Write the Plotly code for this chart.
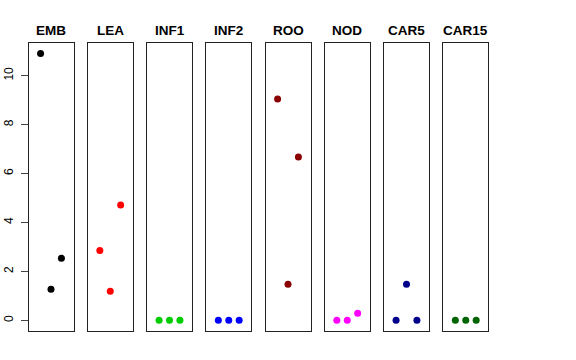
import plotly.graph_objects as go

tissues = ["EMB", "LEA", "INF1", "INF2", "ROO", "NOD", "CAR5", "CAR15"]
colors = ["#000000", "#FF0000", "#00CD00", "#0000FF", "#8B0000", "#FF00FF", "#00008B", "#006400"]
x_pos = [1, 2, 3]
values = {
    "EMB": [10.91, 1.27, 2.54],
    "LEA": [2.85, 1.19, 4.71],
    "INF1": [0.0, 0.0, 0.0],
    "INF2": [0.0, 0.0, 0.0],
    "ROO": [9.05, 1.47, 6.68],
    "NOD": [0.0, 0.0, 0.29],
    "CAR5": [0.0, 1.47, 0.0],
    "CAR15": [0.0, 0.0, 0.0],
}
y_ticks = [0, 2, 4, 6, 8, 10]

W, H = 576, 360
left0 = 28.5
pw = 45.0
period = 59.25
top_px, bot_px = 43.0, 331.0

fig = go.Figure()
ymin, ymax = -0.436, 11.336

for i, t in enumerate(tissues):
    n = i + 1
    xa = "x" if n == 1 else f"x{n}"
    ya = "y" if n == 1 else f"y{n}"
    fig.add_trace(go.Scatter(
        x=x_pos, y=values[t], mode="markers",
        marker=dict(color=colors[i], size=7, line=dict(width=0)),
        xaxis=xa, yaxis=ya, showlegend=False, hoverinfo="y"))
    x0 = (left0 + i * period) / W
    x1 = (left0 + i * period + pw) / W
    xkey = "xaxis" if n == 1 else f"xaxis{n}"
    ykey = "yaxis" if n == 1 else f"yaxis{n}"
    fig.layout[xkey] = dict(
        domain=[x0, x1], range=[-0.16, 4.16], showgrid=False, zeroline=False,
        showticklabels=False, ticks="", showline=True, mirror=True,
        linecolor="#222222", linewidth=1, anchor=ya, fixedrange=True,
        automargin=False)
    ydict = dict(
        domain=[1 - bot_px / H, 1 - top_px / H], range=[ymin, ymax],
        showgrid=False, zeroline=False, showline=True, mirror=True,
        linecolor="#222222", linewidth=1, anchor=xa, fixedrange=True,
        automargin=False)
    if n == 1:
        ydict.update(tickmode="array", tickvals=y_ticks,
                     ticktext=[str(v) for v in y_ticks],
                     ticks="outside", ticklen=7, tickcolor="#444444",
                     tickwidth=1, tickangle=-90, showticklabels=True,
                     ticklabelstandoff=3,
                     tickfont=dict(family="Liberation Sans, Arial", size=12, color="#000000"))
    else:
        ydict.update(showticklabels=False, ticks="")
    fig.layout[ykey] = ydict
    fig.add_annotation(
        x=(x0 + x1) / 2, y=1 - 30 / H, xref="paper", yref="paper",
        text=f"<b>{t}</b>", showarrow=False,
        font=dict(family="Liberation Sans, Arial", size=13.5, color="#000000"),
        xanchor="center", yanchor="middle")

fig.update_layout(
    width=W, height=H, margin=dict(l=0, r=0, t=0, b=0),
    paper_bgcolor="white", plot_bgcolor="white")

fig.write_html("out.html", config={"displayModeBar": False},
               post_script="document.body.style.margin='0';document.body.style.padding='0';")
